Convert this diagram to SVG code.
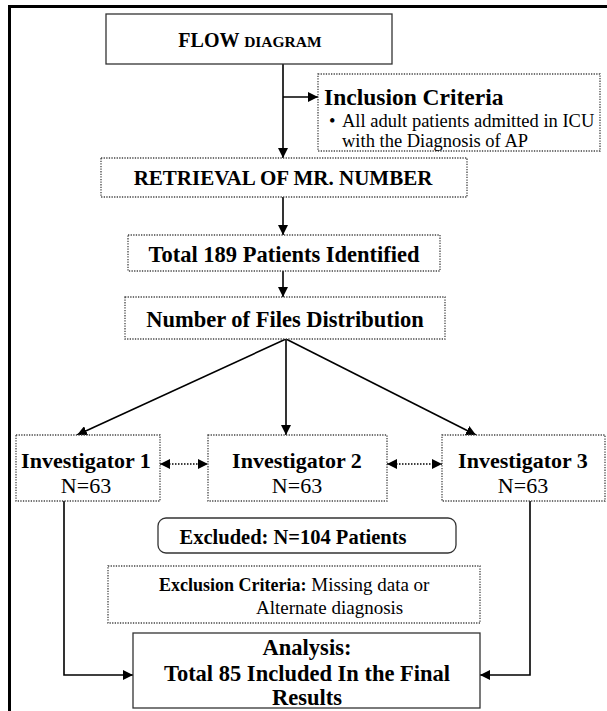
<svg xmlns="http://www.w3.org/2000/svg" width="607" height="711" viewBox="0 0 607 711">
<defs>
<marker id="ah" viewBox="0 0 10 10" refX="10" refY="5" markerWidth="10" markerHeight="10" markerUnits="userSpaceOnUse" orient="auto-start-reverse"><path d="M0,0 L10,5 L0,10 z" fill="#000"/></marker>
<style>
.t{font-family:"Liberation Serif","Times New Roman",serif;fill:#000}
.b{font-weight:bold}
.dot{fill:#fff;stroke:#444;stroke-width:1.3;stroke-dasharray:1.3,1.3}
.sol{fill:#fff;stroke:#333;stroke-width:1.3}
.ln{stroke:#000;stroke-width:1.6;fill:none}
.dl{stroke:#000;stroke-width:1.3;fill:none;stroke-dasharray:1.5,1.5}
</style>
</defs>
<rect width="607" height="711" fill="#fff"/>
<path d="M9.5,711 V6.5 H607" fill="none" stroke="#000" stroke-width="3"/>
<g id="connectors">
<line class="ln" x1="283" y1="64" x2="283" y2="158" marker-end="url(#ah)"/>
<line class="ln" x1="283" y1="97" x2="318" y2="97" marker-end="url(#ah)"/>
<line class="ln" x1="283" y1="197" x2="283" y2="235" marker-end="url(#ah)"/>
<line class="ln" x1="283" y1="271" x2="283" y2="297" marker-end="url(#ah)"/>
<line class="ln" x1="286" y1="339" x2="77" y2="435" marker-end="url(#ah)"/>
<line class="ln" x1="286" y1="339" x2="286" y2="435" marker-end="url(#ah)"/>
<line class="ln" x1="286" y1="339" x2="476" y2="435" marker-end="url(#ah)"/>
<line class="dl" x1="160" y1="464" x2="208" y2="464" marker-start="url(#ah)" marker-end="url(#ah)"/>
<line class="dl" x1="387" y1="464" x2="442" y2="464" marker-start="url(#ah)" marker-end="url(#ah)"/>
<polyline class="ln" points="64,501 64,675 133,675" marker-end="url(#ah)"/>
<polyline class="ln" points="530,501 530,675 480,675" marker-end="url(#ah)"/>
</g>
<g id="flow">
<rect class="sol" x="106" y="14" width="286" height="50"/>
<text class="t b" x="250" y="47" text-anchor="middle" font-size="20">FLOW <tspan font-size="15.5">DIAGRAM</tspan></text>
</g>
<g id="inclusion">
<rect class="dot" x="318" y="74" width="282" height="77"/>
<text class="t b" x="324" y="105" font-size="23.5">Inclusion Criteria</text>
<text class="t" x="329" y="127" font-size="18.5">•</text>
<text class="t" x="342" y="127" font-size="18.5">All adult patients admitted in ICU</text>
<text class="t" x="342" y="147" font-size="18.5">with the Diagnosis of AP</text>
</g>
<g id="retrieval">
<rect class="dot" x="101" y="158" width="366" height="39"/>
<text class="t b" x="283" y="185" text-anchor="middle" font-size="21">RETRIEVAL OF MR. NUMBER</text>
</g>
<g id="total">
<rect class="dot" x="128" y="235" width="312" height="36"/>
<text class="t b" x="284" y="262" text-anchor="middle" font-size="22.5">Total 189 Patients Identified</text>
</g>
<g id="files">
<rect class="dot" x="125" y="297" width="320" height="42"/>
<text class="t b" x="285" y="327" text-anchor="middle" font-size="22.5">Number of Files Distribution</text>
</g>
<g id="inv1">
<rect class="dot" x="16" y="435" width="144" height="66"/>
<text class="t b" x="86" y="468" text-anchor="middle" font-size="22">Investigator 1</text>
<text class="t" x="86" y="493" text-anchor="middle" font-size="22">N=63</text>
</g>
<g id="inv2">
<rect class="dot" x="208" y="435" width="179" height="66"/>
<text class="t b" x="297" y="468" text-anchor="middle" font-size="22">Investigator 2</text>
<text class="t" x="297" y="493" text-anchor="middle" font-size="22">N=63</text>
</g>
<g id="inv3">
<rect class="dot" x="442" y="435" width="163" height="66"/>
<text class="t b" x="523" y="468" text-anchor="middle" font-size="22">Investigator 3</text>
<text class="t" x="523" y="493" text-anchor="middle" font-size="22">N=63</text>
</g>
<g id="excluded">
<rect class="sol" x="158" y="518" width="298" height="35" rx="8"/>
<text class="t b" x="293" y="544" text-anchor="middle" font-size="20.5">Excluded: N=104 Patients</text>
</g>
<g id="exclusion">
<rect class="dot" x="108" y="566" width="372" height="57"/>
<text class="t" x="159" y="591" font-size="19"><tspan class="b" font-size="18">Exclusion Criteria:</tspan> Missing data or</text>
<text class="t" x="256" y="614" font-size="19">Alternate diagnosis</text>
</g>
<g id="analysis">
<rect class="sol" x="133" y="633" width="347" height="75"/>
<text class="t b" x="307" y="655" text-anchor="middle" font-size="22.5">Analysis:</text>
<text class="t b" x="307" y="681" text-anchor="middle" font-size="22.5">Total 85 Included In the Final</text>
<text class="t b" x="307" y="705" text-anchor="middle" font-size="22.5">Results</text>
</g>
</svg>
